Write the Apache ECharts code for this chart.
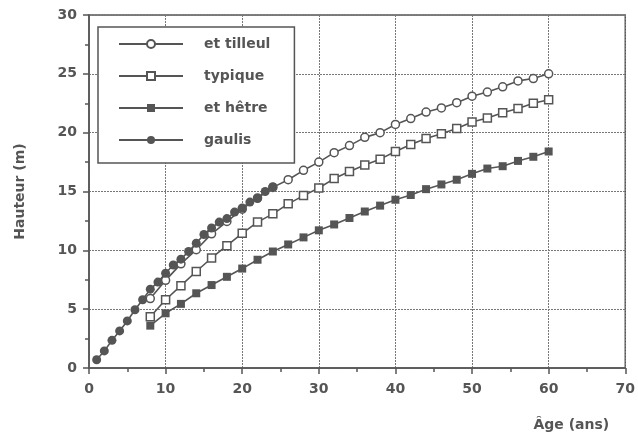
<!DOCTYPE html>
<html>
<head>
<meta charset="utf-8">
<script src="https://cdn.jsdelivr.net/npm/echarts@6/dist/echarts.min.js"></script>
<style>html,body{margin:0;padding:0;background:#fff}#c{width:638px;height:435px}</style>
</head>
<body>
<div id="c"></div>
<script>
const ages2 = [8,10,12,14,16,18,20,22,24,26,28,30,32,34,36,38,40,42,44,46,48,50,52,54,56,58,60];
const tilleul = [5.9,7.45,8.85,10.05,11.4,12.45,13.5,14.45,15.35,16.0,16.8,17.5,18.3,18.9,19.6,20.0,20.7,21.2,21.75,22.1,22.55,23.1,23.45,23.9,24.4,24.6,25.0];
const typique = [4.35,5.8,7.0,8.2,9.35,10.4,11.45,12.4,13.1,13.95,14.65,15.3,16.1,16.7,17.25,17.75,18.4,19.0,19.5,19.9,20.35,20.9,21.25,21.7,22.05,22.5,22.8];
const hetre = [3.6,4.65,5.45,6.35,7.05,7.75,8.45,9.2,9.9,10.5,11.1,11.7,12.2,12.75,13.3,13.8,14.3,14.7,15.2,15.6,16.0,16.5,16.95,17.15,17.6,17.95,18.4];
const agesG = [1,2,3,4,5,6,7,8,9,10,11,12,13,14,15,16,17,18,19,20,21,22,23,24];
const gaulis = [0.7,1.45,2.35,3.15,4.0,4.95,5.8,6.7,7.3,8.05,8.75,9.25,9.9,10.6,11.35,11.9,12.4,12.7,13.25,13.6,14.1,14.4,15.0,15.4];
const names = ['et tilleul','typique','et hêtre','gaulis'];

const C = '#555';
const FONT = '"DejaVu Sans", "Liberation Sans", Arial, sans-serif';
const pair = (xs, ys) => xs.map((x, i) => [x, ys[i]]);

const chart = echarts.init(document.getElementById('c'), null, {renderer: 'canvas'});
const lineBase = {type: 'line', smooth: false, lineStyle: {color: C, width: 1.6}, emphasis: {disabled: true}, animation: false};
chart.setOption({
  animation: false,
  grid: {left: 89, right: 6, top: 15, bottom: 67, show: true, borderColor: C, borderWidth: 1.5, backgroundColor: 'transparent'},
  legend: {
    orient: 'vertical', left: 98, top: 27,
    data: names,
    itemWidth: 64, itemHeight: 10, itemGap: 18,
    padding: [10, 24, 16, 20],
    borderColor: C, borderWidth: 1.5, backgroundColor: '#fff',
    textStyle: {fontFamily: FONT, fontSize: 14, fontWeight: 'bold', color: C, padding: [0, 0, 0, 16]},
    selectedMode: false
  },
  xAxis: {
    type: 'value', min: 0, max: 70, interval: 10,
    name: 'Âge (ans)', nameLocation: 'end', nameGap: -16,
    nameTextStyle: {fontFamily: FONT, fontSize: 14, fontWeight: 'bold', color: C, align: 'right', verticalAlign: 'top', padding: [50, 0, 0, 0]},
    axisLine: {show: true, lineStyle: {color: C, width: 1.5}},
    axisTick: {show: true, length: 6, lineStyle: {color: C, width: 1.5}},
    minorTick: {show: true, splitNumber: 2, length: 4, lineStyle: {color: C, width: 1.5}},
    splitLine: {show: true, lineStyle: {color: '#777', width: 1, type: [2, 1]}},
    axisLabel: {fontFamily: FONT, fontSize: 14, fontWeight: 'bold', color: C, margin: 14}
  },
  yAxis: {
    type: 'value', min: 0, max: 30, interval: 5,
    name: 'Hauteur (m)', nameLocation: 'middle', nameGap: 62, nameRotate: 90,
    nameTextStyle: {fontFamily: FONT, fontSize: 14, fontWeight: 'bold', color: C},
    axisLine: {show: true, lineStyle: {color: C, width: 1.5}},
    axisTick: {show: true, length: 6, lineStyle: {color: C, width: 1.5}},
    minorTick: {show: true, splitNumber: 2, length: 4, lineStyle: {color: C, width: 1.5}},
    splitLine: {show: true, lineStyle: {color: '#777', width: 1, type: [2, 1]}},
    axisLabel: {fontFamily: FONT, fontSize: 14, fontWeight: 'bold', color: C, margin: 12}
  },
  series: [
    Object.assign({}, lineBase, {name: names[0], data: pair(ages2, tilleul), symbol: 'circle', symbolSize: 8,
      itemStyle: {color: '#fff', borderColor: C, borderWidth: 1.5}, z: 4}),
    Object.assign({}, lineBase, {name: names[1], data: pair(ages2, typique), symbol: 'rect', symbolSize: 8,
      itemStyle: {color: '#fff', borderColor: C, borderWidth: 1.5}, z: 3}),
    Object.assign({}, lineBase, {name: names[2], data: pair(ages2, hetre), symbol: 'rect', symbolSize: 8,
      itemStyle: {color: C, borderColor: C, borderWidth: 0}, z: 3}),
    Object.assign({}, lineBase, {name: names[3], data: pair(agesG, gaulis), symbol: 'circle', symbolSize: 9,
      itemStyle: {color: C, borderColor: C, borderWidth: 0}, z: 5})
  ]
});
</script>
</body>
</html>
